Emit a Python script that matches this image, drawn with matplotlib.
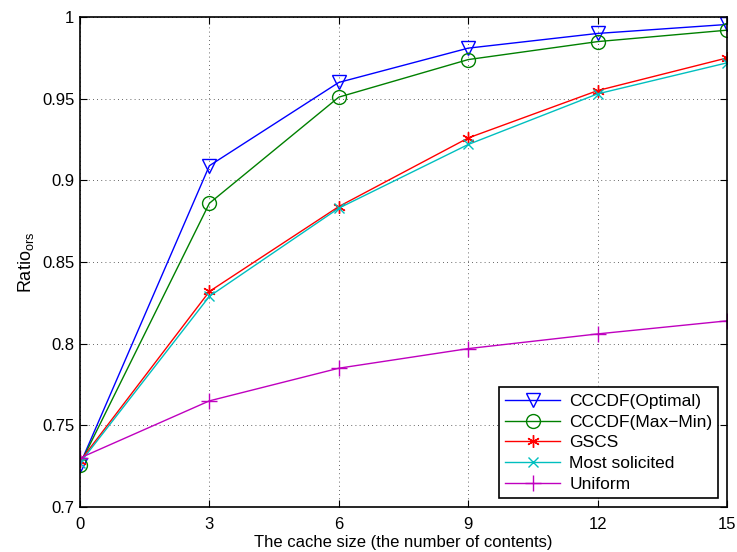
import matplotlib
matplotlib.use('Agg')
import matplotlib.pyplot as plt

plt.rcParams['font.family'] = ['Liberation Sans', 'DejaVu Sans']
plt.rcParams['mathtext.fontset'] = 'custom'
plt.rcParams['mathtext.rm'] = 'Liberation Sans'
plt.rcParams['mathtext.it'] = 'Liberation Sans'

# cache sizes
cache_size = [0, 3, 6, 9, 12, 15]

# ratio values
optimal = [0.726, 0.909, 0.960, 0.981, 0.990, 0.9955]
maxmin = [0.726, 0.886, 0.951, 0.974, 0.985, 0.992]
gscs = [0.728, 0.832, 0.884, 0.926, 0.955, 0.975]
most_solicited = [0.727, 0.829, 0.883, 0.922, 0.953, 0.972]
uniform = [0.730, 0.765, 0.785, 0.797, 0.806, 0.814]

fig = plt.figure(figsize=(7.37, 5.52), dpi=100)
ax = fig.add_axes([0.1085, 0.0815, 0.878, 0.8875])

ax.plot(cache_size, optimal, color='blue', marker='v', markersize=10,
        markerfacecolor='none', lw=1, label='CCCDF(Optimal)')
ax.plot(cache_size, maxmin, color='green', marker='o', markersize=10,
        markerfacecolor='none', lw=1, label='CCCDF(Max\u2212Min)')
ax.plot(cache_size, gscs, color='red', marker=(6, 2, 0), markersize=9,
        lw=1, label='GSCS')
ax.plot(cache_size, most_solicited, color='#00bfbf', marker='x', markersize=7,
        lw=1, label='Most solicited')
ax.plot(cache_size, uniform, color='#bf00bf', marker='+', markersize=11,
        lw=1, label='Uniform')

ax.set_xlim(0, 15)
ax.set_ylim(0.7, 1.0)
ax.set_xticks(cache_size)
ax.set_yticks([0.7, 0.75, 0.8, 0.85, 0.9, 0.95, 1.0])
ax.set_yticklabels(['0.7', '0.75', '0.8', '0.85', '0.9', '0.95', '1'])
ax.tick_params(direction='in', top=True, right=True, labelsize=12, length=5)
ax.tick_params(axis='x', pad=7)
ax.tick_params(axis='y', pad=4)
for s in ax.spines.values():
    s.set_linewidth(1.2)
ax.grid(True, linestyle=(0, (1, 4)), color='black', lw=0.6, alpha=0.8)

ax.set_xlabel('The cache size (the number of contents)', fontsize=12, labelpad=2)
ax.set_ylabel('Ratio$_{ors}$', fontsize=13, labelpad=4)

leg = ax.legend(loc='lower right', fontsize=12.5, fancybox=False,
                edgecolor='black', framealpha=1, handlelength=3.2,
                borderaxespad=0.5, labelspacing=0.33, borderpad=0.35,
                handletextpad=0.5)
leg.get_frame().set_linewidth(1.2)

fig.savefig('out.png', dpi=100)
